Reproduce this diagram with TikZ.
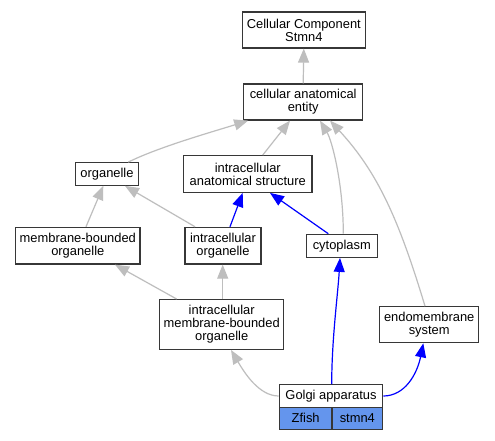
\documentclass[tikz,border=0pt]{standalone}
\usepackage{fontspec}
\setmainfont{Liberation Sans}
\usetikzlibrary{arrows.meta}
\definecolor{edgegray}{RGB}{190,190,190}
\definecolor{boxline}{RGB}{55,55,55}
\definecolor{cellblue}{RGB}{100,149,237}
\begin{document}
\begin{tikzpicture}[x=1pt,y=-1pt,
  box/.style={draw=boxline, line width=1.2pt, fill=white, align=center, inner sep=0pt,
    font=\fontsize{12.9}{13}\selectfont},
  cell/.style={box, fill=cellblue},
  gedge/.style={color=edgegray, line width=1.2pt, -{Triangle[length=14pt,width=11pt]}},
  bedge/.style={color=blue, line width=1.2pt, -{Triangle[length=14pt,width=11pt]}}]
\useasboundingbox (0,0) rectangle (495,440);
\fill[white] (0,0) rectangle (495,440);
\node[box, minimum width=123pt, minimum height=36pt] (ccs) at (303.8,30) {Cellular Component\\Stmn4};
\node[box, minimum width=119pt, minimum height=36pt] (cae) at (303.2,102) {cellular anatomical\\entity};
\node[box, minimum width=62.6pt, minimum height=22.6pt] (org) at (107,174) {organelle};
\node[box, minimum width=128.3pt, minimum height=36.6pt] (ias) at (247.8,174) {intracellular\\anatomical structure};
\node[box, minimum width=124.3pt, minimum height=36.7pt] (mbo) at (77.8,245.7) {membrane-bounded\\organelle};
\node[box, minimum width=76pt, minimum height=36.7pt] (io) at (223,245.7) {intracellular\\organelle};
\node[box, minimum width=71pt, minimum height=23pt] (cyto) at (341.8,245.8) {cytoplasm};
\node[box, minimum width=124pt, minimum height=49.7pt] (imbo) at (221.7,324.5) {intracellular\\membrane-bounded\\organelle};
\node[box, minimum width=99pt, minimum height=36pt] (endo) at (429.2,324.7) {endomembrane\\system};
\node[box, minimum width=103.4pt, minimum height=22.6pt] (golgi) at (331,396) {Golgi apparatus};
\node[cell, minimum width=52.7pt, minimum height=22pt] (zfish) at (305.65,418.3) {Zfish};
\node[cell, minimum width=50.7pt, minimum height=22pt] (stmn) at (357.35,418.3) {stmn4};
% edges
\draw[gedge] (cae.north) -- (ccs.south);
\draw[gedge] ([xshift=21.3pt]org.north) .. controls +(30,-15) and +(-35,11) .. ([xshift=-55pt]cae.south);
\draw[gedge] ([xshift=14.9pt]ias.north) -- ([xshift=-13.2pt]cae.south);
\draw[gedge] ([xshift=1.5pt]cyto.north) .. controls +(0,-50) and +(12,20) .. ([xshift=16.8pt]cae.south);
\draw[gedge] ([xshift=-4.2pt]endo.north) .. controls +(-26,-86) and +(48,52) .. ([xshift=26.8pt]cae.south);
\draw[gedge] ([xshift=8.2pt]mbo.north) -- ([xshift=-3.7pt]org.south);
\draw[gedge] ([xshift=-28pt]io.north) -- ([xshift=18pt]org.south);
\draw[bedge] ([xshift=7pt]io.north) -- ([xshift=-5.1pt]ias.south);
\draw[bedge] ([xshift=-13.5pt]cyto.north) -- ([xshift=22.2pt]ias.south);
\draw[gedge] ([xshift=-45pt]imbo.north) -- ([xshift=37.2pt]mbo.south);
\draw[gedge] ([xshift=1pt]imbo.north) -- ([xshift=-0.3pt]io.south);
\draw[gedge] (golgi.west) .. controls +(-20,0) and +(13,22) .. ([xshift=9.3pt]imbo.south);
\draw[bedge] ([xshift=0.7pt]golgi.north) .. controls +(0,-45) and +(-2,35) .. ([xshift=-1.8pt]cyto.south);
\draw[bedge] (golgi.east) .. controls +(22,0) and +(-6,30) .. ([xshift=-5.9pt]endo.south);
\end{tikzpicture}
\end{document}
